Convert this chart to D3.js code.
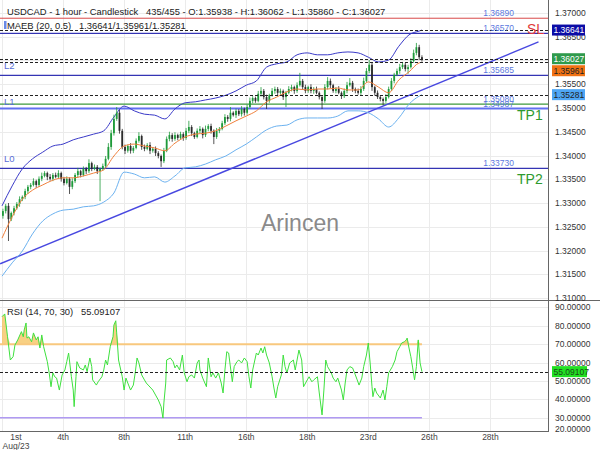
<!DOCTYPE html>
<html>
<head>
<meta charset="utf-8">
<script src="https://cdn.jsdelivr.net/npm/d3@7"></script>
<style>
body { margin: 0; background: #fff; }
svg { display: block; font-family: "Liberation Sans", Arial, sans-serif; }
</style>
</head>
<body>
<svg id="chart" width="600" height="450"></svg>
<script>
// ---- chart values ----
const headerText = "USDCAD - 1 hour - Candlestick   435/455 - O:1.35938 - H:1.36062 - L:1.35860 - C:1.36027";
const maebText = "MAEB (20, 0.5)   1.36641/1.35961/1.35281";
const rsiText = "RSI (14, 70, 30)   55.09107";

// x axis: hour index of each date label
const tickHours = [0, 66, 132, 198, 264, 330, 396, 462, 528];
const tickLabels = ["1st", "4th", "8th", "11th", "16th", "18th", "23rd", "26th", "28th"];

// candles (one per 3 hours), opens follow the previous close
const firstOpen = 1.3273;
const closes = [
  1.3283,1.3294,1.3266,1.3279,1.3289,1.3298,1.3308,1.3313,1.3325,1.3334,
  1.3338,1.3346,1.3338,1.3351,1.3357,1.3363,1.3355,1.3351,1.3359,1.3355,
  1.3363,1.3351,1.3342,1.3351,1.3334,1.3346,1.3359,1.3367,1.3359,1.3372,
  1.3367,1.3384,1.3372,1.3376,1.3367,1.3372,1.3378,1.3393,1.3418,1.3447,
  1.3477,1.3490,1.3452,1.3418,1.3410,1.3420,1.3410,1.3416,1.3431,1.3441,
  1.3418,1.3414,1.3422,1.3410,1.3414,1.3405,1.3399,1.3388,1.3410,1.3435,
  1.3443,1.3435,1.3443,1.3437,1.3445,1.3437,1.3452,1.3460,1.3447,1.3439,
  1.3452,1.3456,1.3443,1.3456,1.3462,1.3452,1.3439,1.3452,1.3456,1.3468,
  1.3481,1.3477,1.3490,1.3485,1.3494,1.3487,1.3498,1.3490,1.3502,1.3515,
  1.3521,1.3515,1.3530,1.3536,1.3523,1.3515,1.3527,1.3536,1.3540,1.3532,
  1.3536,1.3523,1.3532,1.3540,1.3544,1.3536,1.3548,1.3557,1.3544,1.3536,
  1.3544,1.3536,1.3540,1.3532,1.3523,1.3515,1.3544,1.3557,1.3548,1.3536,
  1.3540,1.3532,1.3525,1.3536,1.3548,1.3553,1.3540,1.3536,1.3532,1.3540,
  1.3557,1.3578,1.3591,1.3544,1.3532,1.3523,1.3519,1.3515,1.3523,1.3540,
  1.3557,1.3570,1.3578,1.3586,1.3591,1.3582,1.3586,1.3599,1.3616,1.3628,
  1.3607,1.36027
];
// wick lengths in pips above / below the body
const wickUp = [
  5,4,6,3,5,4,6,3,5,4, 4,6,3,5,7,4,3,6,4,5, 6,3,4,5,3,6,4,7,3,5,
  4,8,3,5,4,3,5,6,8,7, 9,12,6,4,5,3,6,4,5,8, 3,5,4,6,3,5,4,3,6,5,
  7,4,6,3,5,4,6,13,4,3, 5,6,3,7,4,5,3,6,4,5, 6,4,12,3,5,4,6,3,5,7,
  4,3,6,8,4,5,3,6,5,4, 5,3,4,6,5,3,6,17,4,5, 3,6,4,5,3,4,6,8,5,3,
  4,6,3,5,7,10,4,3,5,6, 7,6,10,4,3,5,4,3,6,5, 6,4,5,7,6,4,5,6,7,9,
  5,4
];
const wickDown = [
  6,5,46,4,5,3,6,4,5,6, 5,3,6,4,5,3,7,4,5,3, 4,6,5,3,15,5,4,6,5,3,
  6,4,5,3,6,63,4,5,3,6, 5,4,6,5,7,4,6,5,3,4, 6,5,3,7,4,6,5,12,4,3,
  5,6,4,5,3,6,4,5,6,4, 3,5,7,4,5,6,15,4,5,3, 4,6,5,3,6,4,5,6,4,3,
  5,4,3,6,5,17,4,3,6,5, 4,6,21,3,5,6,4,3,6,5, 4,5,6,3,5,17,4,5,6,4,
  5,3,6,4,5,3,6,5,4,6, 4,3,5,8,6,4,5,9,4,3, 4,5,3,6,4,5,10,3,4,5,
  6,5
];

// MAEB (20, 0.5) bands, sampled by hour index
const bandHour = [0,11,22,33,44,55,66,77,88,99,110,121,132,143,154,165,176,187,198,209,220,
  231,242,253,264,275,286,297,308,319,330,341,352,363,374,385,396,407,418,429,440,451,454];
const upper = [1.3294,1.3336,1.3372,1.3393,1.3407,1.3420,1.3424,1.3433,1.3439,1.3445,
  1.3452,1.3481,1.3504,1.3494,1.3487,1.3485,1.3477,1.3498,1.3511,1.3513,
  1.3517,1.3521,1.3527,1.3536,1.3548,1.3557,1.3586,1.3593,1.3597,1.3612,
  1.3616,1.3612,1.3612,1.3616,1.3618,1.3616,1.3607,1.3597,1.3601,1.3630,
  1.3654,1.3662,1.36641];
const middle = [1.3226,1.3271,1.3308,1.3327,1.3338,1.3348,1.3353,1.3353,1.3357,1.3363,
  1.3370,1.3399,1.3420,1.3424,1.3420,1.3416,1.3410,1.3426,1.3439,1.3445,
  1.3447,1.3452,1.3462,1.3473,1.3483,1.3494,1.3513,1.3523,1.3534,1.3540,
  1.3538,1.3540,1.3540,1.3542,1.3538,1.3538,1.3555,1.3544,1.3532,1.3559,
  1.3576,1.3595,1.35961];
const lower = [1.3146,1.3174,1.3199,1.3235,1.3262,1.3277,1.3285,1.3287,1.3292,1.3294,
  1.3302,1.3321,1.3365,1.3361,1.3353,1.3355,1.3344,1.3357,1.3374,1.3376,
  1.3382,1.3391,1.3399,1.3412,1.3424,1.3439,1.3454,1.3462,1.3464,1.3475,
  1.3479,1.3479,1.3479,1.3483,1.3494,1.3494,1.3490,1.3477,1.3460,1.3479,
  1.3508,1.3525,1.35281];

// RSI (14) sampled by hour index
const rsiHour = [0,3,6,9,12,14,17,21,23,24,26,27,29,32,34,37,39,41,43,45,
  49,51,53,55,57,59,62,65,68,70,72,75,77,78,80,81,84,88,90,92,
  95,97,98,102,104,108,110,112,114,117,120,121,123,124,126,130,132,134,136,139,
  142,144,146,148,151,154,156,158,161,163,166,169,172,174,175,177,178,182,185,187,
  189,192,195,197,200,202,205,208,211,213,214,217,221,223,226,228,231,234,237,239,
  241,243,245,249,251,254,256,259,262,265,267,269,271,275,277,280,282,284,286,289,
  292,294,296,298,302,304,306,308,311,315,317,319,321,324,326,330,332,335,337,341,
  343,346,348,350,352,356,358,361,363,367,369,371,373,376,379,382,384,386,389,391,
  394,396,398,400,401,403,405,409,412,414,416,418,422,425,427,430,432,435,437,438,
  440,442,444,446,448,450,452,454];
const rsi = [84.9,86.4,74.0,61.4,63.2,69.5,72.3,76.8,74.0,77.7,81.5,73.3,74.0,71.3,76.1,72.3,74.0,67.9,75.0,68.6,
  60.5,54.4,46.9,54.4,52.3,51.6,45.1,53.3,56.0,60.5,65.2,52.3,45.1,36.1,52.3,60.5,57.1,56.0,58.7,55.1,
  62.5,57.8,50.6,47.8,49.6,52.3,56.0,61.4,58.7,68.6,74.0,80.4,82.7,76.1,61.4,52.3,45.1,51.6,48.9,45.1,
  47.8,54.4,62.5,59.8,53.3,50.6,48.9,47.8,46.2,45.1,42.4,39.7,36.1,29.9,38.1,48.9,61.4,62.5,60.5,57.1,
  58.7,56.0,64.1,54.4,49.6,52.3,53.3,51.6,59.8,61.4,56.0,51.6,46.9,62.5,52.3,54.4,51.6,54.4,48.9,43.5,
  56.0,65.9,65.2,49.6,57.8,60.5,61.4,59.8,62.5,60.5,52.3,46.2,56.0,65.2,64.1,67.9,65.2,68.6,64.1,59.8,
  52.3,46.2,40.8,46.9,53.3,64.1,57.8,54.4,59.8,61.4,56.0,61.4,66.8,61.4,46.9,50.6,52.3,49.6,50.6,52.3,
  43.5,31.6,45.1,61.4,57.8,54.4,51.6,49.6,51.6,45.1,39.7,48.9,56.0,57.8,57.1,53.3,50.6,47.8,51.6,57.8,
  64.1,70.6,59.8,46.9,41.5,46.2,43.5,40.8,45.1,39.7,46.9,54.4,57.8,61.4,65.9,68.6,70.6,71.3,72.3,73.3,
  67.9,63.2,57.1,50.6,57.8,72.3,59.8,55.09107];
const rsiLevels = [70, 30];

// drawn levels
const levelValues = [1.36890, 1.36570, 1.35685, 1.35080, 1.34987, 1.33730];
const levelValueText = ["1.36890", "1.36570", "1.35685", "1.35080", "1.34987", "1.33730"];
const levelLeftTags = ["", "", "L2", "", "L1", "L0"];
const levelRightTags = ["SL", "", "", "TP1", "", "TP2"];

// trend line: two anchor points [hour index, price]
const trendHours = [-2, 580];
const trendPrices = [1.3172, 1.3639];

// last values shown on the axis
const lastUpper = 1.36641, lastClose = 1.36027, lastMiddle = 1.35961, lastLower = 1.35281;
const lastRsi = 55.09107;

// ---- layout ----
const plotR = 548, mainBot = 300, rsiBot = 431.5;
const svg = d3.select("#chart");

const x = d3.scaleLinear().domain([0, 590]).range([2, 2 + 590 * 0.925]);
const y = d3.scaleLinear().domain([1.31, 1.37]).range([298, 13]);
const yR = d3.scaleLinear().domain([20, 90]).range([436.3, 307.3]);

const defs = svg.append("defs");
defs.append("clipPath").attr("id", "clipMain")
    .append("rect").attr("x", 0).attr("y", 0).attr("width", plotR).attr("height", mainBot);
defs.append("clipPath").attr("id", "clipRsi")
    .append("rect").attr("x", 0).attr("y", mainBot).attr("width", plotR).attr("height", rsiBot - mainBot);

// grid lines
const grid = svg.append("g").attr("stroke", "#ebebeb").attr("stroke-width", 1);
grid.selectAll(".gh").data(y.ticks(12)).join("line")
    .attr("x1", 0).attr("x2", plotR)
    .attr("y1", d => Math.round(y(d)) + 0.5).attr("y2", d => Math.round(y(d)) + 0.5);
grid.selectAll(".gr").data([30, 40, 50, 60, 70, 80, 90]).join("line")
    .attr("x1", 0).attr("x2", plotR)
    .attr("y1", d => Math.round(yR(d)) + 0.5).attr("y2", d => Math.round(yR(d)) + 0.5);
grid.selectAll(".gv").data(tickHours).join("line")
    .attr("x1", d => Math.round(x(d)) + 0.5).attr("x2", d => Math.round(x(d)) + 0.5)
    .attr("y1", 0).attr("y2", rsiBot);

// watermark
svg.append("text").attr("x", 300).attr("y", 231).attr("text-anchor", "middle")
    .attr("font-size", 23).attr("fill", "#8a8a8a").text("Arincen");

const main = svg.append("g").attr("clip-path", "url(#clipMain)");

// horizontal levels
const levelStyle = [
  { stroke: "#d84848", w: 1 },
  { stroke: "#3434b4", w: 1.3 },
  { stroke: "#3434b4", w: 1.3 },
  { stroke: "#3c9a3c", w: 1.2 },
  { stroke: "#6070f0", w: 2 },
  { stroke: "#3434b4", w: 1.3 }
];
levelValues.forEach((v, i) => {
  const yy = y(v);
  main.append("line").attr("x1", 0).attr("x2", plotR).attr("y1", yy).attr("y2", yy)
      .attr("stroke", levelStyle[i].stroke).attr("stroke-width", levelStyle[i].w);
});

// trend line
main.append("line")
    .attr("x1", x(trendHours[0])).attr("y1", y(trendPrices[0]))
    .attr("x2", x(trendHours[1])).attr("y2", y(trendPrices[1]))
    .attr("stroke", "#4848e0").attr("stroke-width", 1.4);

// bands
const bandLine = arr => d3.line()
    .x((d, i) => x(bandHour[i])).y(d => y(d)).curve(d3.curveMonotoneX)(arr);
main.append("path").attr("d", bandLine(lower)).attr("fill", "none")
    .attr("stroke", "#6cb2f0").attr("stroke-width", 1);
main.append("path").attr("d", bandLine(upper)).attr("fill", "none")
    .attr("stroke", "#3a3ac8").attr("stroke-width", 1);

// candles
const candles = closes.map((c, j) => {
  const o = j === 0 ? firstOpen : closes[j - 1];
  return {
    hour: 3 * j + 1, o, c,
    hi: Math.max(o, c) + wickUp[j] / 10000,
    lo: Math.min(o, c) - wickDown[j] / 10000
  };
});
const cg = main.append("g");
cg.selectAll("line").data(candles).join("line")
    .attr("x1", d => x(d.hour)).attr("x2", d => x(d.hour))
    .attr("y1", d => y(d.hi)).attr("y2", d => y(d.lo))
    .attr("stroke", d => d.c >= d.o ? "#1e9a3a" : "#2a2a2a").attr("stroke-width", 0.8);
cg.selectAll("rect").data(candles).join("rect")
    .attr("x", d => x(d.hour) - 0.9).attr("width", 1.8)
    .attr("y", d => y(Math.max(d.o, d.c)))
    .attr("height", d => Math.max(0.8, Math.abs(y(d.o) - y(d.c))))
    .attr("fill", d => d.c >= d.o ? "#1e9a3a" : "#2a2a2a");

// moving average
main.append("path").attr("d", bandLine(middle)).attr("fill", "none")
    .attr("stroke", "#f0803c").attr("stroke-width", 1);

// last-value dashed lines
[lastUpper, lastClose, lastMiddle, lastLower].forEach(v => {
  main.append("line").attr("x1", 0).attr("x2", plotR)
      .attr("y1", Math.round(y(v)) + 0.5).attr("y2", Math.round(y(v)) + 0.5)
      .attr("stroke", "#222").attr("stroke-dasharray", "3,2").attr("stroke-width", 1);
});

// level texts
levelValues.forEach((v, i) => {
  const yy = y(v);
  main.append("text").attr("x", 514).attr("y", yy - 2).attr("text-anchor", "end")
      .attr("font-size", 8.5).attr("fill", "#5c78de").text(levelValueText[i]);
  if (levelLeftTags[i]) {
    main.append("text").attr("x", 4).attr("y", yy - (i === 4 ? 4 : 6))
        .attr("font-size", 9.5).attr("fill", "#5a6ed6").text(levelLeftTags[i]);
  }
  if (levelRightTags[i]) {
    main.append("text").attr("x", levelRightTags[i] === "SL" ? 527 : 517).attr("y", yy + 16)
        .attr("font-size", 14)
        .attr("fill", levelRightTags[i] === "SL" ? "#e03a3a" : "#2e9a2e")
        .text(levelRightTags[i]);
  }
});

// header texts
svg.append("text").attr("x", 7).attr("y", 15).attr("font-size", 9.4).attr("fill", "#222")
    .style("white-space", "pre").text(headerText);
svg.append("rect").attr("x", 4).attr("y", 21).attr("width", 2.5).attr("height", 8).attr("fill", "#6a8ae6");
svg.append("text").attr("x", 7).attr("y", 28.5).attr("font-size", 9.4).attr("fill", "#222")
    .style("white-space", "pre").text(maebText);

// ---- RSI pane ----
const rp = svg.append("g").attr("clip-path", "url(#clipRsi)");
const rsiPts = rsi.map((v, i) => ({ h: rsiHour[i], v }));
rp.append("path")
    .attr("d", d3.area().x(d => x(d.h)).y0(yR(70)).y1(d => yR(Math.max(70, d.v)))(rsiPts))
    .attr("fill", "#f6c05a").attr("fill-opacity", 0.75);
rp.append("path")
    .attr("d", d3.area().x(d => x(d.h)).y0(yR(30)).y1(d => yR(Math.min(30, d.v)))(rsiPts))
    .attr("fill", "#b49cf0").attr("fill-opacity", 0.75);
rp.append("line").attr("x1", 0).attr("x2", x(454)).attr("y1", yR(rsiLevels[0])).attr("y2", yR(rsiLevels[0]))
    .attr("stroke", "#f8c87e").attr("stroke-width", 2);
rp.append("line").attr("x1", 0).attr("x2", x(454)).attr("y1", yR(rsiLevels[1])).attr("y2", yR(rsiLevels[1]))
    .attr("stroke", "#b09af2").attr("stroke-width", 1.5);
rp.append("path")
    .attr("d", d3.line().x(d => x(d.h)).y(d => yR(d.v))(rsiPts))
    .attr("fill", "none").attr("stroke", "#3ee03e").attr("stroke-width", 1);
rp.append("line").attr("x1", 0).attr("x2", plotR)
    .attr("y1", Math.round(yR(lastRsi)) + 0.5).attr("y2", Math.round(yR(lastRsi)) + 0.5)
    .attr("stroke", "#222").attr("stroke-dasharray", "3,2");
svg.append("text").attr("x", 7).attr("y", 315).attr("font-size", 9.4).attr("fill", "#222")
    .style("white-space", "pre").text(rsiText);

// frame lines
svg.append("line").attr("x1", 0).attr("x2", 600).attr("y1", mainBot + 0.5).attr("y2", mainBot + 0.5)
    .attr("stroke", "#666");
svg.append("line").attr("x1", plotR + 0.5).attr("x2", plotR + 0.5).attr("y1", 0).attr("y2", rsiBot)
    .attr("stroke", "#666");
svg.append("line").attr("x1", 0).attr("x2", plotR + 1).attr("y1", rsiBot).attr("y2", rsiBot)
    .attr("stroke", "#666");

// value boxes (stacked apart where they would collide, as the reference does)
const boxes = [
  { v: lastUpper, yy: y(lastUpper), bg: "#0c0ca6", fg: "#fff" },
  { v: lastClose, yy: y(lastClose) - 0.5, bg: "#2f9a4c", fg: "#fff" },
  { v: lastMiddle, yy: y(lastClose) + 11.5, bg: "#f07214", fg: "#222" },
  { v: lastLower, yy: y(lastLower), bg: "#4ea6f4", fg: "#222" },
  { v: lastRsi, yy: yR(lastRsi), bg: "#22e022", fg: "#1a4a1a" }
];

// right axis labels (a label fully hidden behind a value box is left out)
const hidden = v => boxes.some(b => b.v < 2 && Math.abs(y(v) - b.yy) < 3);
const ax = svg.append("g").attr("font-size", 8.5).attr("fill", "#333");
ax.selectAll(".pt").data(y.ticks(12).filter(d => !hidden(d))).join("text")
    .attr("x", 555).attr("y", d => y(d) + 3).text(d => d3.format(".5f")(d));
ax.selectAll(".rt").data([30, 40, 50, 60, 70, 80, 90]).join("text")
    .attr("x", 555).attr("y", d => yR(d) + 3).text(d => d3.format(".5f")(d));
ax.append("text").attr("x", 555).attr("y", 432).text(d3.format(".5f")(20));

boxes.forEach(b => {
  svg.append("rect").attr("x", 552).attr("y", b.yy - 5.5).attr("width", b.v > 2 ? 35 : 33).attr("height", 11)
      .attr("fill", b.bg);
  svg.append("text").attr("x", 553.5).attr("y", b.yy + 3).attr("font-size", 8.5).attr("fill", b.fg)
      .text(d3.format(".5f")(b.v));
});

// bottom axis labels
const bx = svg.append("g").attr("font-size", 8.5).attr("fill", "#444").attr("text-anchor", "middle");
bx.selectAll("text").data(tickHours).join("text")
    .attr("x", d => Math.max(16, x(d))).attr("y", 440)
    .text((d, i) => tickLabels[i]);
bx.append("text").attr("x", 16).attr("y", 449).text("Aug/23");
</script>
</body>
</html>
